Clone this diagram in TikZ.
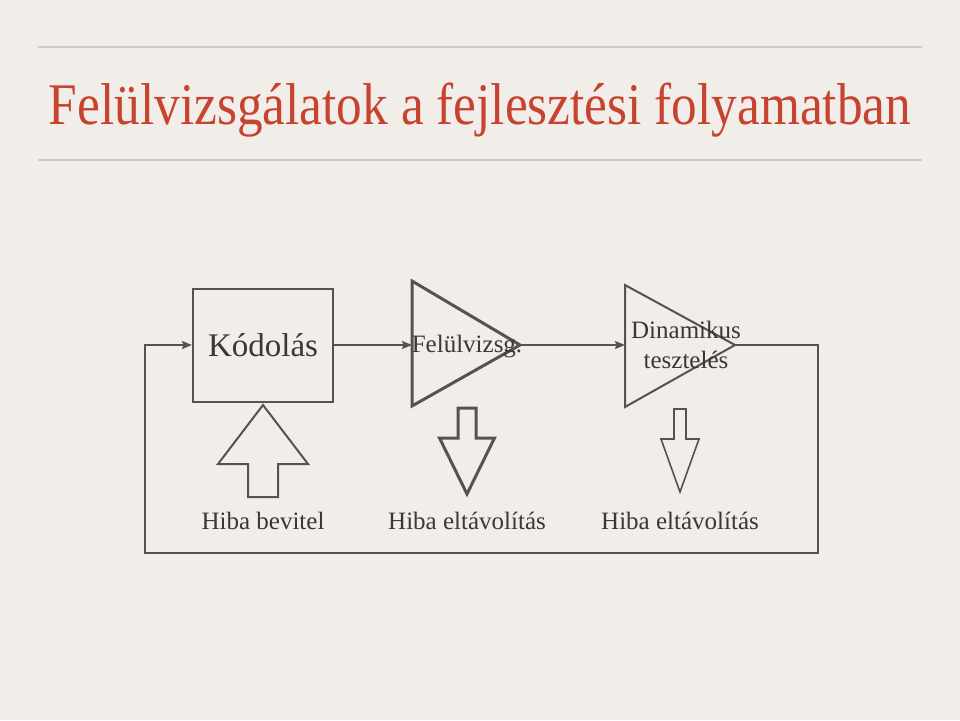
\documentclass[tikz,border=0pt]{standalone}
\usepackage{fontspec}
\setmainfont{Liberation Serif}
\usetikzlibrary{arrows.meta}
\tikzset{>={Stealth[length = 10pt, width = 8pt, inset = 1.5pt]}}
\definecolor{parchment}{HTML}{F1EEE9}
\definecolor{rulegray}{HTML}{CFCBC5}
\definecolor{titlered}{HTML}{C8432F}
\definecolor{ink}{HTML}{57524C}
\definecolor{textink}{HTML}{3A3734}
\tikzset{
	flow/.style = {draw = ink, line width = 2pt},
	box/.style = {draw = ink, line width = 2pt, minimum width = 140pt, minimum height = 113pt, inner sep = 0pt},
	label/.style = {text = textink, font = \fontsize{25}{30}\selectfont, align = center}
}

\begin{document}
\begin{tikzpicture}[x = 1pt, y = -1pt]
	\fill [parchment] (0,0) rectangle (960,720);
	\useasboundingbox (0,0) rectangle (960,720);
	\draw [rulegray, line width = 1.2pt] (38,47) -- (922,47);
	\draw [rulegray, line width = 1.2pt] (38,160) -- (922,160);
	\node (title) at (480,124) [anchor = base, text = titlered, font = \fontsize{59}{59}\selectfont] {\scalebox{0.87}[1]{Felülvizsgálatok a fejlesztési folyamatban}};
	\node (kod) at (263,345) [box, text = textink, font = \fontsize{33}{33}\selectfont] {Kódolás};
	\coordinate (fel-w) at (412,345);
	\coordinate (fel-tip) at (520,345);
	\draw [ink, line width = 3pt, line join = miter] (412,281) -- (fel-tip) -- (412,406) -- cycle;
	\node (fel) at (467,347) [text = textink, font = \fontsize{25}{25}\selectfont] {Felülvizsg.};
	\coordinate (din-w) at (625,345);
	\coordinate (din-tip) at (735,345);
	\draw [flow, line join = miter] (625,285) -- (din-tip) -- (625,407) -- cycle;
	\node (din) at (686,345) [label] {Dinamikus\\tesztelés};
	\coordinate (loop-ne) at (818,345);
	\coordinate (loop-se) at (818,553);
	\coordinate (loop-sw) at (145,553);
	\coordinate (loop-nw) at (145,345);
	\draw [flow, ->] (kod.east) -- (fel-w);
	\draw [flow, ->] (fel-tip) -- (din-w);
	\draw [flow, ->] (din-tip) -- (loop-ne) -- (loop-se) -- (loop-sw) -- (loop-nw) -- (kod.west);
	\draw [ink, line width = 2pt, shift = {(263,405)}] (0,0) -- (45,59) -- (15,59) -- (15,92) -- (-15,92) -- (-15,59) -- (-45,59) -- cycle;
	\draw [ink, line width = 3pt, shift = {(467,494)}] (0,0) -- (27.5,-56) -- (9,-56) -- (9,-86) -- (-9,-86) -- (-9,-56) -- (-27.5,-56) -- cycle;
	\draw [ink, line width = 1.6pt, shift = {(680,492)}] (0,0) -- (19,-53) -- (6,-53) -- (6,-83) -- (-6,-83) -- (-6,-53) -- (-19,-53) -- cycle;
	\node (bevitel) at (263,521) [label] {Hiba bevitel};
	\node (elt-a) at (467,521) [label] {Hiba eltávolítás};
	\node (elt-b) at (680,521) [label] {Hiba eltávolítás};
\end{tikzpicture}
\end{document}
